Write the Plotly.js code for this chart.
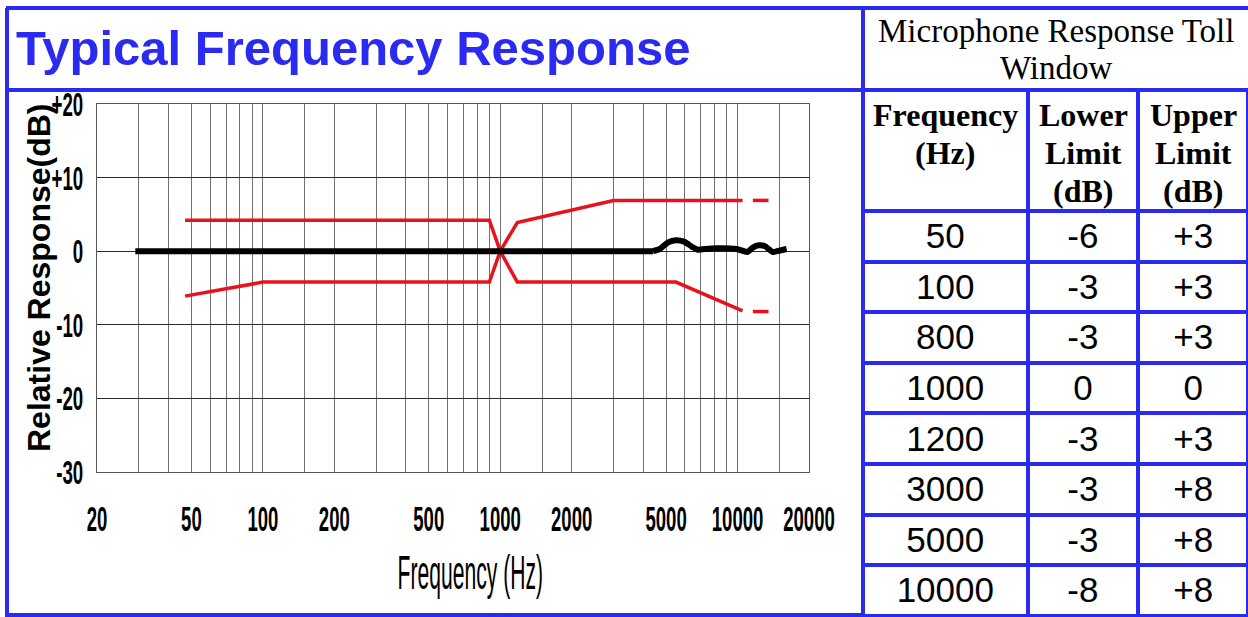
<!DOCTYPE html>
<html>
<head>
<meta charset="utf-8">
<script src="https://cdn.plot.ly/plotly-3.0.1.min.js"></script>
<style>
  html, body { margin: 0; padding: 0; background: #ffffff; }
  #chart { width: 1248px; height: 617px; }
</style>
</head>
<body>
<div id="chart"></div>
<script>
// ---------- data ----------
// typical response curve (black)
const respFreq = [29, 4400, 4700, 5100, 5500, 5950, 6430, 6800, 7300, 8200, 9900, 11000, 11600, 12300, 13000, 14100, 15100, 16100];
const respDb   = [0,   0,    0.3,  1.2,  1.5,  1.3,  0.6,  0.2,  0.3,  0.4,  0.3,  -0.1,  0.5,   0.8,   0.7,   -0.1,  0.1,   0.3];

// upper tolerance limit (red)
const upperFreq = [47, 900, 1000, 1180, 3000, 10500, null, 11600, 13500];
const upperDb   = [4.2, 4.2, 0,   3.9,  6.9,  6.9,   null, 6.9,   6.9];

// lower tolerance limit (red)
const lowerFreq = [47, 100, 900, 1000, 1180, 5500, 10500, null, 11600, 13500];
const lowerDb   = [-6.1, -4.2, -4.2, 0, -4.2, -4.2, -8.1, null, -8.2, -8.2];

// axis ticks
const xLabelFreqs = [20, 50, 100, 200, 500, 1000, 2000, 5000, 10000, 20000];
const xLabelText  = ['20', '50', '100', '200', '500', '1000', '2000', '5000', '10000', '20000'];
const xGridFreqs  = [30, 40, 60, 70, 80, 90, 150, 300, 400, 600, 700, 800, 900, 1500, 3000, 4000, 6000, 7000, 8000, 9000, 15000];
const yTickVals   = [-30, -20, -10, 0, 10, 20];
const yTickText   = ['-30', '-20', '-10', '0', '+10', '+20'];

// tolerance table
const tableFreq  = [50, 100, 800, 1000, 1200, 3000, 5000, 10000];
const tableLower = [-6, -3, -3, 0, -3, -3, -3, -8];
const tableUpper = [3, 3, 3, 0, 3, 8, 8, 8];
const tableHeaders = [['Frequency', '(Hz)'], ['Lower', 'Limit', '(dB)'], ['Upper', 'Limit', '(dB)']];
const tableTitle = ['Microphone Response Toll', 'Window'];

const chartTitle = 'Typical Frequency Response';
const xTitle = 'Frequency (Hz)';
const yTitle = 'Relative Response(dB)';

// ---------- layout helpers ----------
const W = 1248, H = 617;
const px = x => x / W;
const py = y => 1 - y / H;
const BLUE = '#2a2af0';
const RED = '#e8121f';
const fmt = v => (v > 0 ? '+' + v : String(v));
const colCenters = [945, 1083, 1193];
const headerLineY = [115, 153, 191];
const titleLineY = [31, 68];

// merged x ticks: labelled ones + unlabelled grid positions
const xTicks = xLabelFreqs.map((f, i) => ({ f: f, t: xLabelText[i] }))
  .concat(xGridFreqs.map(f => ({ f: f, t: '' })))
  .sort((a, b) => a.f - b.f);

const traces = [
  {
    type: 'scatter', mode: 'lines', x: lowerFreq, y: lowerDb,
    line: { color: RED, width: 3.5 }, connectgaps: false, showlegend: false
  },
  {
    type: 'scatter', mode: 'lines', x: upperFreq, y: upperDb,
    line: { color: RED, width: 3.5 }, connectgaps: false, showlegend: false
  },
  {
    type: 'scatter', mode: 'lines', x: respFreq.slice(0, 2), y: respDb.slice(0, 2),
    line: { color: '#000000', width: 6 }, showlegend: false
  },
  {
    type: 'scatter', mode: 'lines', x: respFreq.slice(1), y: respDb.slice(1),
    line: { color: '#000000', width: 6, shape: 'spline', smoothing: 0.7 }, showlegend: false
  },
  {
    type: 'table',
    domain: { x: [px(863), 1], y: [0, py(90)] },
    columnwidth: [165, 111, 110],
    header: {
      values: ['', '', ''],
      height: 121,
      align: 'center',
      fill: { color: '#ffffff' },
      line: { color: BLUE, width: 4 },
      font: { family: 'Liberation Serif, Times New Roman, serif', size: 32, color: '#000000' }
    },
    cells: {
      values: [tableFreq.map(String), tableLower.map(fmt), tableUpper.map(fmt)],
      height: 50.6,
      align: 'center',
      fill: { color: '#ffffff' },
      line: { color: BLUE, width: 4 },
      font: { family: 'Liberation Sans, Arial, sans-serif', size: 35, color: '#000000' }
    }
  }
];

const frame = [
  [6, 8, 1248, 8],      // top
  [7, 8, 7, 617],       // left
  [6, 90, 1248, 90],    // under title
  [863, 8, 863, 617],   // divider
  [6, 615, 863, 615]    // bottom
];

const annotations = [
  {
    text: xTitle, xref: 'paper', yref: 'paper',
    x: px(470), y: py(572), xanchor: 'center', yanchor: 'middle', showarrow: false,
    font: { family: 'Liberation Sans, Arial, sans-serif', size: 48, color: '#000000' }
  },
  {
    text: yTitle, xref: 'paper', yref: 'paper',
    x: px(39), y: py(278), xanchor: 'center', yanchor: 'middle', showarrow: false, textangle: -90,
    font: { family: 'Liberation Sans, Arial, sans-serif', size: 32, color: '#000000', weight: 'bold' }
  }
];
tableTitle.forEach((line, i) => annotations.push({
  text: line, xref: 'paper', yref: 'paper',
  x: px(1056), y: py(titleLineY[i]), xanchor: 'center', yanchor: 'middle', showarrow: false,
  font: { family: 'Liberation Serif, Times New Roman, serif', size: 33, color: '#000000' }
}));
tableHeaders.forEach((lines, c) => lines.forEach((line, i) => annotations.push({
  text: line, xref: 'paper', yref: 'paper',
  x: px(colCenters[c]), y: py(headerLineY[i]), xanchor: 'center', yanchor: 'middle', showarrow: false,
  font: { family: 'Liberation Serif, Times New Roman, serif', size: 32, color: '#000000', weight: 'bold' }
})));

const layout = {
  width: W, height: H,
  margin: { l: 0, r: 0, t: 0, b: 0 },
  paper_bgcolor: '#ffffff',
  plot_bgcolor: '#ffffff',
  showlegend: false,
  title: {
    text: chartTitle,
    x: px(16), xanchor: 'left', xref: 'paper',
    y: py(48), yanchor: 'middle', yref: 'paper',
    font: { family: 'Liberation Sans, Arial, sans-serif', size: 49, color: BLUE, weight: 'bold' }
  },
  xaxis: {
    type: 'log',
    domain: [px(97), px(809)],
    range: [Math.log10(20), Math.log10(20000)],
    tickmode: 'array',
    tickvals: xTicks.map(d => d.f),
    ticktext: xTicks.map(d => d.t),
    tickangle: 0,
    ticks: '',
    showgrid: true, gridcolor: '#707070', gridwidth: 1,
    showline: true, linecolor: '#555555', linewidth: 1, mirror: true,
    zeroline: false,
    ticklabelstandoff: 16,
    tickfont: { family: 'Liberation Sans, Arial, sans-serif', size: 35, color: '#000000', weight: 'bold' }
  },
  yaxis: {
    domain: [py(472), py(104)],
    range: [-30, 20],
    tickmode: 'array',
    tickvals: yTickVals,
    ticktext: yTickText,
    ticks: '',
    showgrid: true, gridcolor: '#2a2a2a', gridwidth: 1,
    showline: true, linecolor: '#555555', linewidth: 1, mirror: true,
    zeroline: false,
    ticklabelstandoff: 6,
    tickfont: { family: 'Liberation Sans, Arial, sans-serif', size: 34, color: '#000000', weight: 'bold' }
  },
  annotations: annotations,
  shapes: frame.map(s => ({
    type: 'line', xref: 'paper', yref: 'paper',
    x0: px(s[0]), y0: py(s[1]), x1: px(s[2]), y1: py(s[3]),
    line: { color: BLUE, width: 4 }
  }))
};

// horizontally condense a text element (keeps it as real text)
function squeeze(el, s, anchor) {
  const bb = el.getBBox();
  const cx = anchor === 'end' ? bb.x + bb.width : bb.x + bb.width / 2;
  const t = el.getAttribute('transform') || '';
  el.setAttribute('transform', t + ' translate(' + cx + ',0) scale(' + s + ',1) translate(' + (-cx) + ',0)');
}

Plotly.newPlot('chart', traces, layout, { displayModeBar: false, staticPlot: true }).then(gd => {
  gd.querySelectorAll('.xtick text').forEach(el => squeeze(el, 0.53, 'center'));
  gd.querySelectorAll('.ytick text').forEach(el => squeeze(el, 0.55, 'end'));
  gd.querySelectorAll('.annotation-text').forEach(el => {
    if (el.textContent === xTitle) squeeze(el, 0.44, 'center');
  });
  gd.querySelectorAll('.cell-text').forEach(el => {
    const t = el.getAttribute('transform') || '';
    el.setAttribute('transform', t + ' translate(0,3)');
  });
});
</script>
</body>
</html>
